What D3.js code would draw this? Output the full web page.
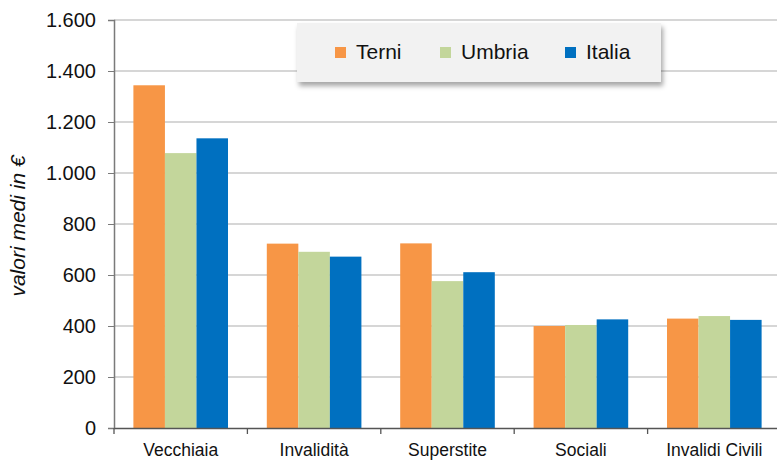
<!DOCTYPE html>
<html>
<head>
<meta charset="utf-8">
<script src="https://cdn.jsdelivr.net/npm/d3@7"></script>
<style>
  body { margin: 0; background: #fff; }
  svg { display: block; font-family: "Liberation Sans", Arial, sans-serif; }
</style>
</head>
<body>
<svg id="chart" width="777" height="460"></svg>
<script>
"use strict";

const categories = ["Vecchiaia", "Invalidità", "Superstite", "Sociali", "Invalidi Civili"];
const seriesNames = ["Terni", "Umbria", "Italia"];
const terni = [1344, 723, 724, 400, 429];
const umbria = [1078, 691, 576, 404, 439];
const italia = [1136, 672, 611, 426, 424];
const yTicks = [0, 200, 400, 600, 800, 1000, 1200, 1400, 1600];
const colors = ["#F79646", "#C3D69B", "#0070C0"];

const plotLeft = 114, plotRight = 781, plotTop = 20, plotBottom = 428;
const fontFam = "Liberation Sans, Arial, sans-serif";
const svg = d3.select("#chart");

const xScale = d3.scaleBand().domain(categories).range([plotLeft, plotRight]);
const yScale = d3.scaleLinear().domain([0, 1600]).range([plotBottom, plotTop]);
const innerScale = d3.scaleBand().domain(seriesNames)
    .range([0, xScale.bandwidth()]).paddingOuter(0.615).paddingInner(0);
const fmt = v => d3.format(",")(v).replace(/,/g, ".");

// gridlines
svg.append("g").selectAll("line")
    .data(yTicks.filter(t => t > 0))
    .join("line")
    .attr("x1", plotLeft).attr("x2", plotRight)
    .attr("y1", d => yScale(d)).attr("y2", d => yScale(d))
    .attr("stroke", "#c8c8c8").attr("stroke-width", 1.3);

// bars
const seriesData = [terni, umbria, italia];
const barData = [];
seriesData.forEach((vals, s) => vals.forEach((v, i) =>
    barData.push({cat: categories[i], series: seriesNames[s], value: v, color: colors[s]})));

svg.append("g").selectAll("rect")
    .data(barData)
    .join("rect")
    .attr("x", d => xScale(d.cat) + innerScale(d.series))
    .attr("y", d => yScale(d.value))
    .attr("width", innerScale.bandwidth())
    .attr("height", d => yScale(0) - yScale(d.value))
    .attr("fill", d => d.color);

// y axis
const yAxis = d3.axisLeft(yScale).tickValues(yTicks).tickFormat(fmt).tickSize(6).tickPadding(12);
const gy = svg.append("g").attr("transform", `translate(${plotLeft},0)`).call(yAxis);
gy.select(".domain").attr("stroke", "#7a7a7a").attr("stroke-width", 1.5);
gy.selectAll(".tick line").attr("stroke", "#7a7a7a");
gy.selectAll(".tick text").attr("font-size", 20).attr("fill", "#111").attr("font-family", fontFam);

// x axis
const xAxis = d3.axisBottom(xScale).tickSize(0).tickPadding(16);
const gx = svg.append("g").attr("transform", `translate(0,${plotBottom})`).call(xAxis);
gx.select(".domain").attr("stroke", "#555").attr("stroke-width", 1.5);
gx.selectAll(".tick text").attr("font-size", 17.5).attr("fill", "#111").attr("font-family", fontFam);
// category separators
gx.append("g").selectAll("line")
    .data(categories)
    .join("line")
    .attr("x1", d => xScale(d)).attr("x2", d => xScale(d))
    .attr("y1", 0).attr("y2", 6)
    .attr("stroke", "#555").attr("stroke-width", 1.3);

// y title
svg.append("text")
    .attr("transform", "translate(25,226) rotate(-90)")
    .attr("text-anchor", "middle")
    .attr("font-size", 21).attr("font-style", "italic").attr("fill", "#111")
    .text("valori medi in €");

// legend
const defs = svg.append("defs");
const filter = defs.append("filter").attr("id", "shadow")
    .attr("x", "-10%").attr("y", "-20%").attr("width", "130%").attr("height", "160%");
filter.append("feDropShadow").attr("dx", 2).attr("dy", 4).attr("stdDeviation", 2.5)
    .attr("flood-color", "#000").attr("flood-opacity", 0.35);

const legend = svg.append("g").attr("transform", "translate(297,23)");
legend.append("rect").attr("width", 364).attr("height", 59)
    .attr("fill", "#f2f2f2").attr("filter", "url(#shadow)");
const legendX = [38, 143, 268];
const items = legend.selectAll("g.item").data(seriesNames).join("g")
    .attr("class", "item")
    .attr("transform", (d, i) => `translate(${legendX[i]},24)`);
items.append("rect").attr("width", 11).attr("height", 11).attr("fill", (d, i) => colors[i]);
items.append("text").attr("x", 21).attr("y", 12).attr("font-size", 21).attr("fill", "#111")
    .text(d => d);
</script>
</body>
</html>
